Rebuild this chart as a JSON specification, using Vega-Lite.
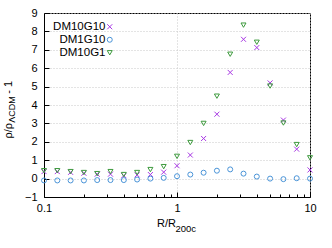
{
  "$schema": "https://vega.github.io/schema/vega-lite/v6.json",
  "width": 266,
  "height": 184,
  "autosize": {"type": "none"},
  "padding": {"left": 44, "top": 13, "right": 22, "bottom": 51},
  "background": "white",
  "config": {
    "font": "Liberation Sans",
    "view": {"stroke": "#000", "strokeWidth": 1},
    "axis": {"labelFont": "Liberation Sans", "titleFont": "Liberation Sans", "labelColor": "#000", "titleColor": "#000", "labelFontSize": 11, "titleFontSize": 11, "titleFontWeight": "normal", "domainColor": "#000", "tickColor": "#000"},
    "legend": {"labelFont": "Liberation Sans", "labelFontSize": 11.5, "labelColor": "#000"}
  },
  "data": {"values": [
    {"r": 0.1, "v": 0.38, "s": "DM10G10"},
    {"r": 0.1259, "v": 0.38, "s": "DM10G10"},
    {"r": 0.1585, "v": 0.34, "s": "DM10G10"},
    {"r": 0.1995, "v": 0.29, "s": "DM10G10"},
    {"r": 0.2512, "v": 0.24, "s": "DM10G10"},
    {"r": 0.3162, "v": 0.24, "s": "DM10G10"},
    {"r": 0.3981, "v": 0.16, "s": "DM10G10"},
    {"r": 0.5012, "v": 0.2, "s": "DM10G10"},
    {"r": 0.631, "v": 0.22, "s": "DM10G10"},
    {"r": 0.7943, "v": 0.35, "s": "DM10G10"},
    {"r": 1.0, "v": 0.7, "s": "DM10G10"},
    {"r": 1.2589, "v": 1.28, "s": "DM10G10"},
    {"r": 1.5849, "v": 2.18, "s": "DM10G10"},
    {"r": 1.9953, "v": 3.5, "s": "DM10G10"},
    {"r": 2.5119, "v": 5.77, "s": "DM10G10"},
    {"r": 3.1623, "v": 7.57, "s": "DM10G10"},
    {"r": 3.9811, "v": 7.12, "s": "DM10G10"},
    {"r": 5.0119, "v": 5.2, "s": "DM10G10"},
    {"r": 6.3096, "v": 3.18, "s": "DM10G10"},
    {"r": 7.9433, "v": 1.6, "s": "DM10G10"},
    {"r": 10.0, "v": 0.47, "s": "DM10G10"},
    {"r": 0.1, "v": -0.1, "s": "DM1G10"},
    {"r": 0.1259, "v": -0.1, "s": "DM1G10"},
    {"r": 0.1585, "v": -0.1, "s": "DM1G10"},
    {"r": 0.1995, "v": -0.1, "s": "DM1G10"},
    {"r": 0.2512, "v": -0.08, "s": "DM1G10"},
    {"r": 0.3162, "v": -0.08, "s": "DM1G10"},
    {"r": 0.3981, "v": -0.08, "s": "DM1G10"},
    {"r": 0.5012, "v": -0.05, "s": "DM1G10"},
    {"r": 0.631, "v": 0.0, "s": "DM1G10"},
    {"r": 0.7943, "v": 0.04, "s": "DM1G10"},
    {"r": 1.0, "v": 0.13, "s": "DM1G10"},
    {"r": 1.2589, "v": 0.22, "s": "DM1G10"},
    {"r": 1.5849, "v": 0.32, "s": "DM1G10"},
    {"r": 1.9953, "v": 0.43, "s": "DM1G10"},
    {"r": 2.5119, "v": 0.5, "s": "DM1G10"},
    {"r": 3.1623, "v": 0.27, "s": "DM1G10"},
    {"r": 3.9811, "v": 0.11, "s": "DM1G10"},
    {"r": 5.0119, "v": 0.0, "s": "DM1G10"},
    {"r": 6.3096, "v": -0.03, "s": "DM1G10"},
    {"r": 7.9433, "v": 0.02, "s": "DM1G10"},
    {"r": 10.0, "v": 0.0, "s": "DM1G10"},
    {"r": 0.1, "v": 0.43, "s": "DM10G1"},
    {"r": 0.1259, "v": 0.43, "s": "DM10G1"},
    {"r": 0.1585, "v": 0.38, "s": "DM10G1"},
    {"r": 0.1995, "v": 0.33, "s": "DM10G1"},
    {"r": 0.2512, "v": 0.27, "s": "DM10G1"},
    {"r": 0.3162, "v": 0.38, "s": "DM10G1"},
    {"r": 0.3981, "v": 0.22, "s": "DM10G1"},
    {"r": 0.5012, "v": 0.33, "s": "DM10G1"},
    {"r": 0.631, "v": 0.49, "s": "DM10G1"},
    {"r": 0.7943, "v": 0.65, "s": "DM10G1"},
    {"r": 1.0, "v": 1.21, "s": "DM10G1"},
    {"r": 1.2589, "v": 1.96, "s": "DM10G1"},
    {"r": 1.5849, "v": 3.0, "s": "DM10G1"},
    {"r": 1.9953, "v": 4.48, "s": "DM10G1"},
    {"r": 2.5119, "v": 6.76, "s": "DM10G1"},
    {"r": 3.1623, "v": 8.34, "s": "DM10G1"},
    {"r": 3.9811, "v": 7.41, "s": "DM10G1"},
    {"r": 5.0119, "v": 5.03, "s": "DM10G1"},
    {"r": 6.3096, "v": 3.02, "s": "DM10G1"},
    {"r": 7.9433, "v": 1.85, "s": "DM10G1"},
    {"r": 10.0, "v": 1.13, "s": "DM10G1"}
  ]},
  "resolve": {"axis": {"x": "independent", "y": "independent"}},
  "layer": [
    {
      "mark": {"type": "point", "filled": false, "strokeWidth": 1, "size": 25, "clip": false, "opacity": 1},
      "encoding": {
        "x": {"field": "r", "type": "quantitative",
          "scale": {"type": "log", "domain": [0.1, 10], "nice": false},
          "axis": {"values": [0.1, 1, 10], "format": "~g", "tickSize": -5, "labelPadding": 10, "grid": true, "gridColor": "#c8c8c8", "gridDash": [1, 2], "title": "R/R", "titleFontSize": 11, "titleX": 122, "titleY": 29.5, "titleAlign": "center", "titleBaseline": "alphabetic", "labelFlush": false}},
        "y": {"field": "v", "type": "quantitative",
          "scale": {"domain": [-1, 9], "nice": false, "zero": false},
          "axis": {"values": [-1, 0, 1, 2, 3, 4, 5, 6, 7, 8, 9], "tickSize": -5, "labelPadding": 12, "grid": true, "gridColor": "#c8c8c8", "gridDash": [1, 2], "title": "ρ/ρ", "titleAngle": -90, "titleX": -32.5, "titleY": 125, "titleAlign": "left", "titleBaseline": "alphabetic"}},
        "color": {"field": "s", "type": "nominal",
          "scale": {"domain": ["DM10G10", "DM1G10", "DM10G1"], "range": ["#a838e4", "#4a94d8", "#3d9a3d"]},
          "legend": {"title": null, "orient": "none", "legendX": 1, "legendY": 8, "labelAlign": "right", "labelOffset": -10, "symbolOffset": 59, "rowPadding": 0, "padding": 0, "symbolStrokeWidth": 1, "symbolSize": 25}},
        "shape": {"field": "s", "type": "nominal",
          "scale": {"domain": ["DM10G10", "DM1G10", "DM10G1"], "range": ["M-1,-1L1,1M1,-1L-1,1", "circle", "triangle-down"]},
          "legend": {"title": null, "orient": "none", "legendX": 1, "legendY": 8, "labelAlign": "right", "labelOffset": -10, "symbolOffset": 59, "rowPadding": 0, "padding": 0}}
      }
    },
    {
      "mark": {"type": "point", "opacity": 0},
      "encoding": {
        "x": {"field": "r", "type": "quantitative",
          "scale": {"type": "log", "domain": [0.1, 10], "nice": false},
          "axis": {"orient": "bottom", "values": [0.2, 0.3, 0.4, 0.5, 0.6, 0.7, 0.8, 0.9, 2, 3, 4, 5, 6, 7, 8, 9], "labels": false, "domain": false, "grid": false, "tickSize": -3, "title": "200c", "titleFontSize": 9.5, "titleX": 131, "titleY": 34, "titleAlign": "left", "titleBaseline": "alphabetic"}},
        "y": {"field": "v", "type": "quantitative",
          "scale": {"domain": [-1, 9], "nice": false, "zero": false},
          "axis": {"orient": "right", "labels": false, "ticks": false, "domain": false, "grid": false, "title": "- 1", "titleAngle": -90, "titleX": -298.5, "titleY": 80.3, "titleAlign": "left", "titleBaseline": "alphabetic", "titleFontSize": 11}}
      }
    },
    {
      "mark": {"type": "point", "opacity": 0},
      "encoding": {
        "x": {"field": "r", "type": "quantitative",
          "scale": {"type": "log", "domain": [0.1, 10], "nice": false},
          "axis": {"orient": "top", "labels": false, "ticks": false, "domain": false, "grid": false, "title": "ΛCDM", "titleFontSize": 9, "titleAngle": -90, "titleX": -30, "titleY": 109.3, "titleAlign": "left", "titleBaseline": "alphabetic"}}
      }
    }
  ]
}
